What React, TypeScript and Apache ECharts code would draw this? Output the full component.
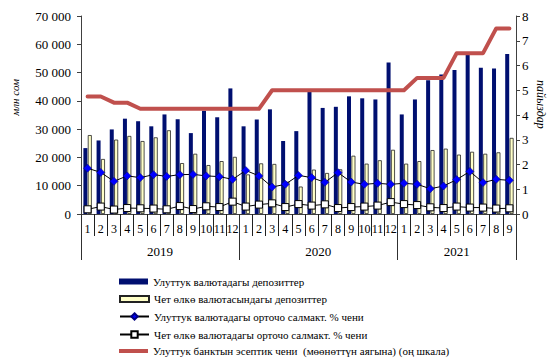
import React, { useEffect, useRef } from "react";
import * as echarts from "echarts";

// Monthly data, 2019-01 .. 2021-09
const years = ["2019", "2020", "2021"];
const monthsPerYear = [12, 12, 9];
const monthLabels = [
  "1", "2", "3", "4", "5", "6", "7", "8", "9", "10", "11", "12",
  "1", "2", "3", "4", "5", "6", "7", "8", "9", "10", "11", "12",
  "1", "2", "3", "4", "5", "6", "7", "8", "9",
];

// Deposits, mln som (left axis)
const nationalDeposits = [
  23300, 26000, 29900, 33700, 32800, 31000, 35200, 33500, 28600, 36500, 34200, 44400,
  31000, 33400, 37000, 25800, 29300, 43200, 37500, 37900, 41600, 40900, 40500, 53600,
  35200, 40500, 47300, 49300, 50900, 56500, 51700, 51400, 56600,
];
const foreignDeposits = [
  27900, 19450, 26300, 27600, 25800, 27100, 29600, 18000, 21300, 17300, 18700, 20200,
  14000, 17900, 17700, 11400, 9700, 15700, 14500, 15800, 20600, 17800, 19000, 22700,
  17800, 18700, 22600, 23100, 21000, 22000, 21300, 21800, 26900,
];

// Rates, % (right axis)
const nationalRate = [
  1.85, 1.68, 1.32, 1.54, 1.47, 1.59, 1.52, 1.59, 1.6, 1.54, 1.51, 1.4,
  1.76, 1.54, 1.09, 1.2, 1.56, 1.47, 1.28, 1.67, 1.29, 1.2, 1.24, 1.2,
  1.24, 1.2, 1.02, 1.13, 1.39, 1.72, 1.27, 1.4, 1.36,
];
const foreignRate = [
  0.19, 0.3, 0.18, 0.24, 0.23, 0.22, 0.19, 0.32, 0.2, 0.31, 0.28, 0.5,
  0.3, 0.38, 0.43, 0.28, 0.4, 0.34, 0.39, 0.24, 0.28, 0.3, 0.34, 0.48,
  0.4, 0.36, 0.27, 0.24, 0.3, 0.26, 0.26, 0.22, 0.23,
];
const policyRate = [
  4.75, 4.75, 4.5, 4.5, 4.25, 4.25, 4.25, 4.25, 4.25, 4.25, 4.25, 4.25,
  4.25, 4.25, 5, 5, 5, 5, 5, 5, 5, 5, 5, 5,
  5, 5.5, 5.5, 5.5, 6.5, 6.5, 6.5, 7.5, 7.5,
];

const seriesNames = [
  "Улуттук валютадагы депозиттер",
  "Чет өлкө валютасындагы депозиттер",
  "Улуттук валютадагы орточо салмакт. % чени",
  "Чет өлкө валютадагы орточо салмакт. % чени",
  "Улуттук банктын эсептик чени  (мөөнөттүн аягына) (оң шкала)",
];

const FONT = "'Liberation Serif', 'DejaVu Serif', 'Times New Roman', serif";

export default function App() {
  const ref = useRef<HTMLDivElement>(null);

  useEffect(() => {
    if (!ref.current) return;
    const chart = echarts.init(ref.current, undefined, { renderer: "svg" });

    // year group boundaries and centres in month units
    const bounds: number[] = [0];
    monthsPerYear.forEach((n) => bounds.push(bounds[bounds.length - 1] + n));
    const centres = monthsPerYear.map((n, i) => bounds[i] + n / 2);
    const total = bounds[bounds.length - 1];

    const fmtThousands = (v: number) =>
      String(v).replace(/\B(?=(\d{3})+(?!\d))/g, " ");

    // one legend row per series, stacked under the plot
    const legendRowTop = [276, 293.5, 311, 329, 345.5];
    const legends = seriesNames.map((name, i) => ({
      show: true,
      orient: "horizontal",
      left: 119,
      top: legendRowTop[i],
      padding: 0,
      itemWidth: 29,
      itemHeight: i === 4 ? 4 : i < 2 ? 6 : 8,
      itemGap: 0,
      textStyle: { fontFamily: FONT, fontSize: 11, color: "#000" },
      data: [i < 2 || i === 4 ? { name, icon: "rect" } : { name }],
    }));

    chart.setOption({
      animation: false,
      backgroundColor: "#ffffff",
      textStyle: { fontFamily: FONT, color: "#000" },
      grid: { left: 81, right: 32, top: 16, bottom: 144, containLabel: false },
      legend: legends,
      xAxis: [
        {
          type: "category",
          data: monthLabels,
          position: "bottom",
          boundaryGap: true,
          axisLine: { show: true, lineStyle: { color: "#404040", width: 1 } },
          axisTick: {
            show: true,
            interval: 0,
            alignWithLabel: false,
            length: 22,
            lineStyle: { color: "#202020", width: 1 },
          },
          axisLabel: {
            interval: 0,
            margin: 9,
            fontFamily: FONT,
            fontSize: 12,
            color: "#000",
          },
          splitLine: { show: false },
        },
        {
          type: "value",
          position: "bottom",
          min: 0,
          max: total,
          axisLine: { show: false },
          axisTick: {
            show: true,
            customValues: bounds,
            length: 46,
            lineStyle: { color: "#303030", width: 1 },
          },
          axisLabel: {
            customValues: centres,
            margin: 31,
            fontFamily: FONT,
            fontSize: 13,
            color: "#000",
            formatter: (v: number) => {
              const i = centres.findIndex((c) => Math.abs(c - v) < 1e-6);
              return i >= 0 ? years[i] : "";
            },
          },
          splitLine: { show: false },
        },
      ],
      yAxis: [
        {
          type: "value",
          min: 0,
          max: 70000,
          interval: 10000,
          position: "left",
          axisLine: { show: true, lineStyle: { color: "#404040", width: 1 } },
          axisTick: { show: true, length: 4, lineStyle: { color: "#404040" } },
          axisLabel: {
            margin: 10,
            fontFamily: FONT,
            fontSize: 13,
            color: "#000",
            formatter: (v: number) => fmtThousands(v),
          },
          splitLine: { show: false },
        },
        {
          type: "value",
          min: 0,
          max: 8,
          interval: 1,
          position: "right",
          axisLine: { show: true, lineStyle: { color: "#404040", width: 1 } },
          axisTick: { show: true, length: 4, lineStyle: { color: "#404040" } },
          axisLabel: {
            margin: 6,
            fontFamily: FONT,
            fontSize: 13,
            color: "#000",
          },
          splitLine: { show: false },
        },
      ],
      graphic: [
        {
          type: "text",
          left: 9,
          top: 79,
          rotation: Math.PI / 2,
          style: {
            text: "млн сом",
            fontFamily: FONT,
            fontStyle: "italic",
            fontSize: 11,
            fill: "#000",
          },
        },
        {
          type: "text",
          left: 535,
          top: 80,
          rotation: -Math.PI / 2,
          style: {
            text: "пайыздар",
            fontFamily: FONT,
            fontStyle: "italic",
            fontSize: 12,
            fill: "#000",
          },
        },
      ],
      series: [
        {
          name: seriesNames[0],
          type: "bar",
          xAxisIndex: 0,
          yAxisIndex: 0,
          data: nationalDeposits,
          barWidth: 4,
          barGap: "10%",
          itemStyle: { color: "#000F70" },
          z: 2,
        },
        {
          name: seriesNames[1],
          type: "bar",
          xAxisIndex: 0,
          yAxisIndex: 0,
          data: foreignDeposits,
          barWidth: 4,
          barGap: "10%",
          itemStyle: { color: "#FFFFC8", borderColor: "#222", borderWidth: 0.8 },
          z: 2,
        },
        {
          name: seriesNames[4],
          type: "line",
          xAxisIndex: 0,
          yAxisIndex: 1,
          data: policyRate,
          showSymbol: false,
          symbol: "none",
          lineStyle: { color: "#C0504D", width: 4, cap: "round", join: "round" },
          itemStyle: { color: "#C0504D" },
          z: 3,
        },
        {
          name: seriesNames[2],
          type: "line",
          xAxisIndex: 0,
          yAxisIndex: 1,
          data: nationalRate,
          symbol: "diamond",
          symbolSize: 8,
          lineStyle: { color: "#000", width: 1 },
          itemStyle: { color: "#0000FF", borderColor: "#000080", borderWidth: 0.5 },
          z: 4,
        },
        {
          name: seriesNames[3],
          type: "line",
          xAxisIndex: 0,
          yAxisIndex: 1,
          data: foreignRate,
          symbol: "rect",
          symbolSize: 7,
          lineStyle: { color: "#000", width: 1 },
          itemStyle: { color: "#FFFFFF", borderColor: "#000", borderWidth: 1 },
          z: 4,
        },
      ],
    });

    return () => chart.dispose();
  }, []);

  return (
    <div
      ref={ref}
      style={{ position: "fixed", left: 0, top: 0, width: 548, height: 358, background: "#fff" }}
    />
  );
}
